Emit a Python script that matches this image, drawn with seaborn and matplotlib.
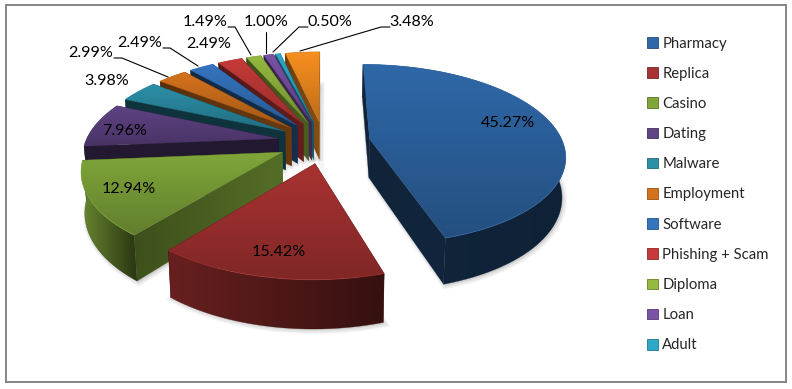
import numpy as np
import seaborn as sns
import matplotlib.pyplot as plt
from matplotlib.colors import LinearSegmentedColormap, to_rgb
from matplotlib.patches import Patch, Polygon, Rectangle

# data
categories = ['Pharmacy', 'Replica', 'Casino', 'Dating', 'Malware', 'Employment',
              'Software', 'Phishing + Scam', 'Diploma', 'Loan', 'Adult']
values = [45.27, 15.42, 12.94, 7.96, 3.98, 2.99, 2.49, 2.49, 1.49, 1.00, 0.50, 3.48]
value_labels = ['45.27%', '15.42%', '12.94%', '7.96%', '3.98%', '2.99%',
                '2.49%', '2.49%', '1.49%', '1.00%', '0.50%', '3.48%']

# styles
top_colors = ['#2F68A8', '#A83332', '#80A63A', '#5F4384', '#2C90A9', '#D5731D',
              '#3575C0', '#C63B39', '#94BA3F', '#7A52A6', '#2EA8C9', '#F88F20']
side_light = [0.36, 0.62, 0.82, 0.36, 0.36, 0.42, 0.36, 0.42, 0.42, 0.42, 0.42, 0.42]
wall_light = [0.34, 0.40, 0.48, 0.36, 0.36, 0.42, 0.36, 0.42, 0.42, 0.42, 0.42, 0.42]
wall_dark = [0.36, 0.55, 0.66, 0.36, 0.36, 0.50, 0.40, 0.50, 0.50, 0.50, 0.50, 0.55]
label_pos = [(508, 123), (279, 252), (129, 189), (125, 131), (107, 81), (91, 53),
             (140, 43), (209, 44), (205, 22), (266, 22), (330, 22), (412, 22)]
leaders = {5: [(114, 58), (122, 58), (168, 77)],
           6: [(163, 48), (170, 48), (198, 66)],
           8: [(228, 27), (235, 27), (251, 55)],
           9: [(266, 32), (266, 53)],
           10: [(308, 27), (299, 27), (273, 52)],
           11: [(390, 27), (381, 27), (300, 51)]}

# 3d look of the pie
CX, CY = 324, 142
RX, RY = 193, 88
PERSP = 0.17
DEPTH = 39
EXPLODE = 0.24

sns.set_theme(style='white')
plt.rcParams['font.family'] = ['Lato', 'DejaVu Sans']

fig = plt.figure(figsize=(7.92, 3.89), dpi=100)
ax = fig.add_axes([0, 0, 1, 1])


def project(u, v, low=False):
    s = 1 / (1 + PERSP * v)
    x = RX * u * s
    y = -RY * v * s
    if low:
        return CX + 0.985 * x, CY + y + DEPTH * s
    return CX + x, CY + y


def shade(color, f):
    return tuple(min(1, c * f) for c in to_rgb(color))


def fill(xs, ys, c1, c2, horizontal=False, z=2):
    # gradient clipped to the polygon
    pts = np.column_stack([xs, ys])
    cmap = LinearSegmentedColormap.from_list('g', [c1, c2])
    grad = np.linspace(0, 1, 64)
    grad = grad.reshape(1, -1) if horizontal else grad.reshape(-1, 1)
    x0, x1, y0, y1 = min(xs), max(xs), min(ys), max(ys)
    if x1 - x0 < 0.01 or y1 - y0 < 0.01:
        return
    im = ax.imshow(grad, cmap=cmap, extent=(x0 - 1, x1 + 1, y1 + 1, y0 - 1),
                   aspect='auto', zorder=z, interpolation='bilinear')
    clip = Polygon(pts, closed=True, transform=ax.transData)
    im.set_clip_path(clip)
    ax.add_patch(Polygon(pts, closed=True, fc='none', ec=c2, lw=0.3, zorder=z, alpha=0.6))


edges = np.cumsum([0] + values) / sum(values) * 2 * np.pi
slices = []
for i in range(len(values)):
    a, b = edges[i], edges[i + 1]
    mid = (a + b) / 2
    ou, ov = EXPLODE * np.sin(mid), EXPLODE * np.cos(mid)
    t = np.linspace(a, b, max(4, int((b - a) * 40)))
    slices.append((ov, i, ou, ov, t))

# back slices first
z = 2
for ov, i, ou, ov2, t in sorted(slices, key=lambda q: -q[0]):
    col = top_colors[i]
    u = ou + np.sin(t)
    v = ov2 + np.cos(t)
    xa, ya = project(u, v)
    xl, yl = project(u, v, low=True)
    ax0, ay0 = project(ou, ov2)
    lx0, ly0 = project(ou, ov2, low=True)

    # soft shadow under the bottom face
    sx = np.r_[lx0, xl]
    sy = np.r_[ly0, yl]
    for lw, al in [(5, 0.08), (3, 0.12)]:
        ax.add_patch(Polygon(np.column_stack([sx + 1.5, sy + 1.5]), closed=True,
                             fc='#808080', ec='#808080', lw=lw, alpha=al, zorder=z))
    z += 1

    light = shade(col, side_light[i])
    dark = shade(col, 0.32)
    walls = []
    # radial walls
    for k in (0, -1):
        wx = [ax0, xa[k], xl[k], lx0]
        wy = [ay0, ya[k], yl[k], ly0]
        walls.append(((ov2 + v[k]) / 2, wx, wy, shade(col, wall_light[i]), shade(col, wall_dark[i])))
    walls.append((v.mean(), list(xa) + list(xl[::-1]), list(ya) + list(yl[::-1]), light, dark))
    for _, wx, wy, c1, c2 in sorted(walls, key=lambda w: -w[0]):
        fill(wx, wy, c1, c2, horizontal=True, z=z)
        z += 1

    # top face
    fill(np.r_[ax0, xa], np.r_[ay0, ya], shade(col, 1.0), shade(col, 0.76), z=z)
    z += 1
    ax.plot(xa, ya, color=shade(col, 1.15), lw=0.7, alpha=0.45, zorder=z,
            solid_capstyle='butt')
    z += 1

ax.set_xlim(0, 792)
ax.set_ylim(389, 0)
ax.axis('off')

# value labels and leader lines
for i, txt in enumerate(value_labels):
    ax.text(label_pos[i][0], label_pos[i][1], txt, ha='center', va='center',
            fontsize=11.6, color='black', zorder=z + 2)
for pts in leaders.values():
    ax.plot([p[0] for p in pts], [p[1] for p in pts], color='black', lw=0.8, zorder=z + 1)

# chart frame
ax.add_patch(Rectangle((6, 5), 780, 377, fc='none', ec='#868686', lw=1.4, zorder=z + 1))

handles = [Patch(fc=top_colors[i], ec=shade(top_colors[i], 0.7), lw=0.6, label=c)
           for i, c in enumerate(categories)]
ax.legend(handles=handles, loc='upper left', bbox_to_anchor=(647, 36.5),
          bbox_transform=ax.transData, frameon=False, fontsize=10.7,
          handlelength=0.72, handleheight=0.72, handletextpad=0.3,
          labelspacing=1.09, borderpad=0, borderaxespad=0)

fig.savefig('out.png', dpi=100)
